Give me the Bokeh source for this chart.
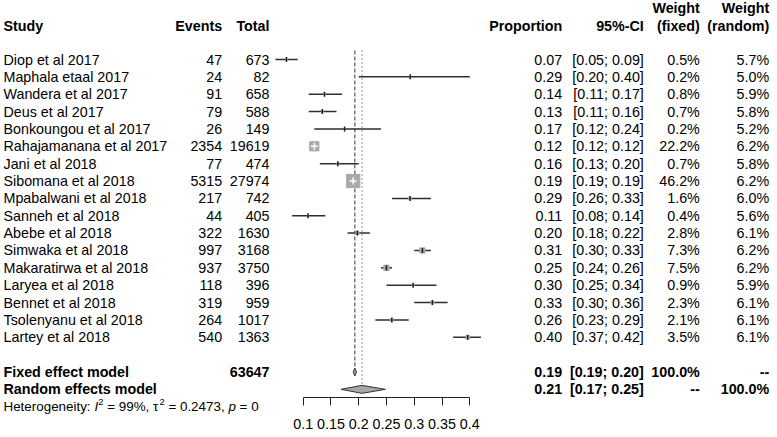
import math
from bokeh.plotting import figure
from bokeh.models import Range1d, FixedTicker, ColumnDataSource
from bokeh.core.properties import value
from bokeh.embed import file_html
from bokeh.resources import INLINE

# ---------------- data ----------------
studies = ["Diop et al 2017", "Maphala etaal 2017", "Wandera et al 2017", "Deus et al 2017",
           "Bonkoungou et al 2017", "Rahajamanana et al 2017", "Jani et al 2018",
           "Sibomana et al 2018", "Mpabalwani et al 2018", "Sanneh et al 2018",
           "Abebe et al 2018", "Simwaka et al 2018", "Makaratirwa et al 2018",
           "Laryea et al 2018", "Bennet et al 2018", "Tsolenyanu et al 2018", "Lartey et al 2018"]
events = [47, 24, 91, 79, 26, 2354, 77, 5315, 217, 44, 322, 997, 937, 118, 319, 264, 540]
totals = [673, 82, 658, 588, 149, 19619, 474, 27974, 742, 405, 1630, 3168, 3750, 396, 959, 1017, 1363]
ci_lower = [0.05, 0.20, 0.11, 0.11, 0.12, 0.12, 0.13, 0.19, 0.26, 0.08, 0.18, 0.30, 0.24, 0.25, 0.30, 0.23, 0.37]
ci_upper = [0.09, 0.40, 0.17, 0.16, 0.24, 0.12, 0.20, 0.19, 0.33, 0.14, 0.22, 0.33, 0.26, 0.34, 0.36, 0.29, 0.42]
w_fixed = [0.5, 0.2, 0.8, 0.7, 0.2, 22.2, 0.7, 46.2, 1.6, 0.4, 2.8, 7.3, 7.5, 0.9, 2.3, 2.1, 3.5]
w_random = [5.7, 5.0, 5.9, 5.8, 5.2, 6.2, 5.8, 6.2, 6.0, 5.6, 6.1, 6.2, 6.2, 5.9, 6.1, 6.1, 6.1]

fixed_est, fixed_lo, fixed_hi = 0.193, 0.190, 0.196
random_est, random_lo, random_hi = 0.206, 0.168, 0.248

tick_vals = [0.1, 0.15, 0.2, 0.25, 0.3, 0.35, 0.4]
tick_labels = ["0.1", "0.15", "0.2", "0.25", "0.3", "0.35", "0.4"]

# ---------------- layout ----------------
W, H = 772, 434
Y0 = 59.0      # pixel of first study row
SP = 17.36     # row spacing in px
PX_PER_UNIT = 555.33
X_AT_01 = 302.7
x_start = 0.1 - X_AT_01 / PX_PER_UNIT
x_end = x_start + W / PX_PER_UNIT

FONT = "Liberation Sans"
FS = "14.3px"

def row_of(px):
    return (px - Y0) / SP

rows = list(range(len(studies)))
fixed_row, random_row, het_row = 18, 19, 20
hdr1, hdr2 = row_of(7.5), row_of(25)
axis_row = row_of(397.3)

p = figure(frame_width=W, frame_height=H, output_backend="svg", toolbar_location=None,
           x_range=Range1d(x_start, x_end),
           y_range=Range1d((H - Y0) / SP, -Y0 / SP),
           x_axis_location="below", y_axis_location=None,
           min_border=0, min_border_left=0, min_border_right=0,
           min_border_top=0, min_border_bottom=0,
           outline_line_color=None, background_fill_color="white", border_fill_color="white")
p.grid.visible = False
p.extra_x_ranges = {"px": Range1d(0, W)}

# axis (drawn inside the frame at a fixed row position)
ax = p.xaxis[0]
ax.fixed_location = axis_row
ax.ticker = FixedTicker(ticks=tick_vals)
ax.bounds = (tick_vals[0], tick_vals[-1])
ax.major_label_overrides = {v: l for v, l in zip(tick_vals, tick_labels)}
ax.major_tick_out = 8
ax.major_tick_in = 0
ax.minor_tick_out = 0
ax.minor_tick_in = 0
ax.axis_line_color = "#222222"
ax.major_tick_line_color = "#222222"
ax.major_label_text_font = FONT
ax.major_label_text_font_size = FS
ax.major_label_text_color = "black"
ax.major_label_standoff = 13

# ---------------- forest marks ----------------
props = [e / t for e, t in zip(events, totals)]

# reference lines
p.segment(x0=[fixed_est], y0=[-0.52], x1=[fixed_est], y1=[fixed_row - 0.23],
          line_color="#333333", line_width=1, line_dash="4 2")
p.segment(x0=[random_est], y0=[-0.52], x1=[random_est], y1=[random_row - 0.23],
          line_color="#333333", line_width=1, line_dash="1 3")

src = ColumnDataSource(dict(
    y=rows, est=props, lo=ci_lower, hi=ci_upper,
    sq=[1.96 * math.sqrt(w) for w in w_fixed],
    mk=["cross" if w > 10 else "dash" for w in w_fixed],
    mc=["white" if w > 10 else "#1a1a1a" for w in w_fixed],
    ms=[7 if w > 10 else 5 for w in w_fixed],
    ang=[0 if w > 10 else math.pi / 2 for w in w_fixed],
))
p.segment(x0="lo", y0="y", x1="hi", y1="y", source=src, line_color="#2e2e2e", line_width=1.5)
p.scatter(x="est", y="y", size="sq", marker="square", source=src,
          fill_color="#aaaaaa", line_color="#aaaaaa")
p.scatter(x="est", y="y", size="ms", marker="mk", angle="ang", source=src,
          line_color="mc", line_width=1.5)

# diamonds
dh = 0.23
p.patches(xs=[[fixed_lo, fixed_est, fixed_hi, fixed_est], [random_lo, random_est, random_hi, random_est]],
          ys=[[fixed_row, fixed_row - dh, fixed_row, fixed_row + dh],
              [random_row, random_row - dh, random_row, random_row + dh]],
          fill_color="#a8a8a8", line_color="#333333", line_width=1)

# ---------------- text table ----------------
COL_STUDY, COL_EVENTS, COL_TOTAL = 3, 221.7, 269
COL_PROP, COL_CI, COL_WF, COL_WR = 561.7, 643.3, 699.3, 768.7

def txt(xpx, ys, texts, align="right", bold=False, size=FS, style=None):
    p.text(x=[xpx] * len(ys), y=ys, text=texts, x_range_name="px",
           text_align=align, text_baseline="middle",
           text_font=value(FONT), text_font_size=size,
           text_font_style=style if style else ("bold" if bold else "normal"),
           text_color="black")

# headers
txt(COL_STUDY, [hdr2], ["Study"], "left", True)
txt(COL_EVENTS, [hdr2], ["Events"], bold=True)
txt(COL_TOTAL, [hdr2], ["Total"], bold=True)
txt(COL_PROP, [hdr2], ["Proportion"], bold=True)
txt(COL_CI, [hdr2], ["95%-CI"], bold=True)
txt(COL_WF, [hdr1, hdr2], ["Weight", "(fixed)"], bold=True)
txt(COL_WR, [hdr1, hdr2], ["Weight", "(random)"], bold=True)

# study rows
txt(COL_STUDY, rows, studies, "left")
txt(COL_EVENTS, rows, [str(e) for e in events])
txt(COL_TOTAL, rows, [str(t) for t in totals])
txt(COL_PROP, rows, [f"{v:.2f}" for v in props])
txt(COL_CI, rows, [f"[{l:.2f}; {h:.2f}]" for l, h in zip(ci_lower, ci_upper)])
txt(COL_WF, rows, [f"{w:.1f}%" for w in w_fixed])
txt(COL_WR, rows, [f"{w:.1f}%" for w in w_random])

# summary rows
srows = [fixed_row, random_row]
txt(COL_STUDY, srows, ["Fixed effect model", "Random effects model"], "left", True)
txt(COL_TOTAL, [fixed_row], [str(sum(totals))], bold=True)
txt(COL_PROP, srows, [f"{fixed_est:.2f}", f"{random_est:.2f}"], bold=True)
txt(COL_CI, srows, [f"[{fixed_lo:.2f}; {fixed_hi:.2f}]", f"[{random_lo:.2f}; {random_hi:.2f}]"], bold=True)
txt(COL_WF, srows, ["100.0%", "--"], bold=True)
txt(COL_WR, srows, ["--", "100.0%"], bold=True)

# heterogeneity line
het_pieces = [
    ("Heterogeneity:", 0.0, "normal", "13.4px", 0.0),
    ("I", 90.9, "italic", "13.4px", 0.0),
    ("2", 94.8, "normal", "9.4px", -0.27),
    ("= 99%,", 103.7, "normal", "13.4px", 0.0),
    ("\u03c4", 149.5, "normal", "13.4px", 0.0),
    ("2", 156.0, "normal", "9.4px", -0.27),
    ("= 0.2473,", 164.9, "normal", "13.4px", 0.0),
    ("p", 224.9, "italic", "13.4px", 0.0),
    ("= 0", 236.1, "normal", "13.4px", 0.0),
]
for t, xo, style, fs, dy in het_pieces:
    txt(COL_STUDY + xo, [het_row + dy], [t], "left", size=fs, style=style)

open("out.html", "w").write(file_html(p, INLINE))
